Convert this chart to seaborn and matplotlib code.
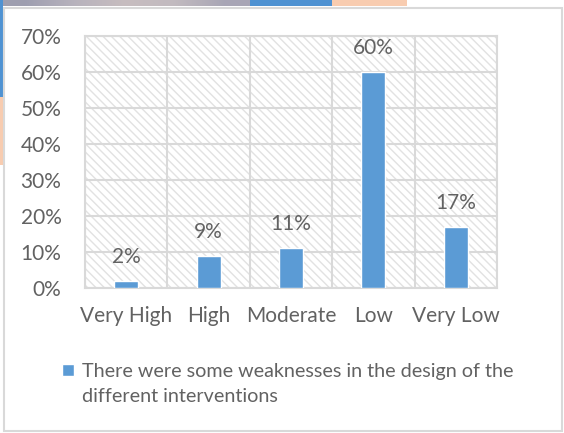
import matplotlib
matplotlib.use("Agg")
import matplotlib.pyplot as plt
from matplotlib.patches import Rectangle
from matplotlib.legend_handler import HandlerPatch
import numpy as np
import seaborn as sns
import pandas as pd

# Survey results
categories = ["Very High", "High", "Moderate", "Low", "Very Low"]
values = [2, 9, 11, 60, 17]
series_name = "There were some weaknesses in the design of the\ndifferent interventions"
y_ticks = [0, 10, 20, 30, 40, 50, 60, 70]

df = pd.DataFrame({"level": categories, "share": values, "series": series_name})

sns.set_theme(style="white")
plt.rcParams["font.family"] = ["Lato", "DejaVu Sans"]
plt.rcParams["hatch.linewidth"] = 1.0

TEXT = "#626262"
GRID = "#D9D9D9"
BLUE = "#5B9BD5"

W, H = 564, 433
fig = plt.figure(figsize=(W / 100, H / 100), dpi=100)
fig.patch.set_facecolor("white")


def px_axes(left, top, right, bottom):
    return [left / W, 1 - bottom / H, (right - left) / W, (bottom - top) / H]


# Decorative page header strip and outer frame
deco = fig.add_axes([0, 0, 1, 1], zorder=-5)
grad = np.array([[0.62, 0.62, 0.69], [0.72, 0.70, 0.74], [0.78, 0.74, 0.75],
                 [0.76, 0.73, 0.75], [0.66, 0.65, 0.71]])
deco.imshow(grad[np.newaxis, :, :], extent=(0, 250, 6, 0), aspect="auto",
            interpolation="bilinear", zorder=1)
deco.add_patch(Rectangle((250, 0), 82, 6, color="#4F92D2", lw=0, zorder=2))
deco.add_patch(Rectangle((332, 0), 75, 6, color="#F8CCB0", lw=0, zorder=2))
deco.add_patch(Rectangle((0, 0), 3, 97, color="#4F92D2", lw=0, zorder=2))
deco.add_patch(Rectangle((0, 97), 3, 68, color="#F8CCB0", lw=0, zorder=2))
deco.add_patch(Rectangle((3.5, 7.5), 558, 423, facecolor="white",
                         edgecolor="#D9D9D9", lw=1.5, zorder=3))
deco.set_xlim(0, W)
deco.set_ylim(H, 0)
deco.axis("off")

ax = fig.add_axes(px_axes(85, 36, 497, 288))

# Hatched plot-area background
ax.add_patch(Rectangle((0, 0), 1, 1, transform=ax.transAxes, facecolor="white",
                       edgecolor="#E2E2E2", hatch="\\\\\\\\", lw=0, zorder=0))

sns.barplot(data=df, x="level", y="share", hue="series", palette=[BLUE],
            width=0.29, saturation=1, ax=ax, zorder=3, legend=True)

ax.set_ylim(0, 70)
ax.set_xlim(-0.5, len(categories) - 0.5)
ax.set_yticks(y_ticks)
ax.set_yticklabels([f"{t}%" for t in y_ticks])
ax.set_xticks(range(len(categories)))
ax.set_xticklabels(categories)
ax.set_xticks([i - 0.5 for i in range(len(categories) + 1)], minor=True)
ax.set_xlabel("")
ax.set_ylabel("")
ax.tick_params(axis="y", length=0, pad=17, labelsize=15, labelcolor=TEXT)
ax.tick_params(axis="x", which="major", length=0, pad=13, labelsize=15, labelcolor=TEXT)
ax.tick_params(axis="x", which="minor", length=0)
ax.grid(axis="y", which="major", color=GRID, lw=1.5, zorder=1)
ax.grid(axis="x", which="minor", color=GRID, lw=1.5, zorder=1)
ax.grid(axis="x", which="major", visible=False)
ax.set_axisbelow(True)
for sp in ax.spines.values():
    sp.set_color(GRID)
    sp.set_linewidth(1.5)

# Value labels above bars
for i, v in enumerate(values):
    ax.annotate(f"{v}%", (i, v), xytext=(0, 13), textcoords="offset points",
                ha="center", va="baseline", fontsize=15, color=TEXT)


# Legend key: small square level with the first line of the label
def top_square(legend, orig_handle, xdescent, ydescent, width, height, fontsize):
    side = 8.5
    return Rectangle((-xdescent, -ydescent + 10.5), side, side)


handles, labels = ax.get_legend_handles_labels()
leg = ax.legend(handles, labels, loc="upper left", bbox_to_anchor=(62 / W, 1 - 363 / H),
                bbox_transform=fig.transFigure, frameon=False, fontsize=14.2,
                labelcolor=TEXT, handlelength=0.7, handleheight=0.7, handletextpad=0.3,
                borderpad=0, borderaxespad=0,
                handler_map={type(handles[0]): HandlerPatch(patch_func=top_square)})
for t in leg.get_texts():
    t.set_linespacing(1.55)

fig.savefig("out.png", dpi=100)
